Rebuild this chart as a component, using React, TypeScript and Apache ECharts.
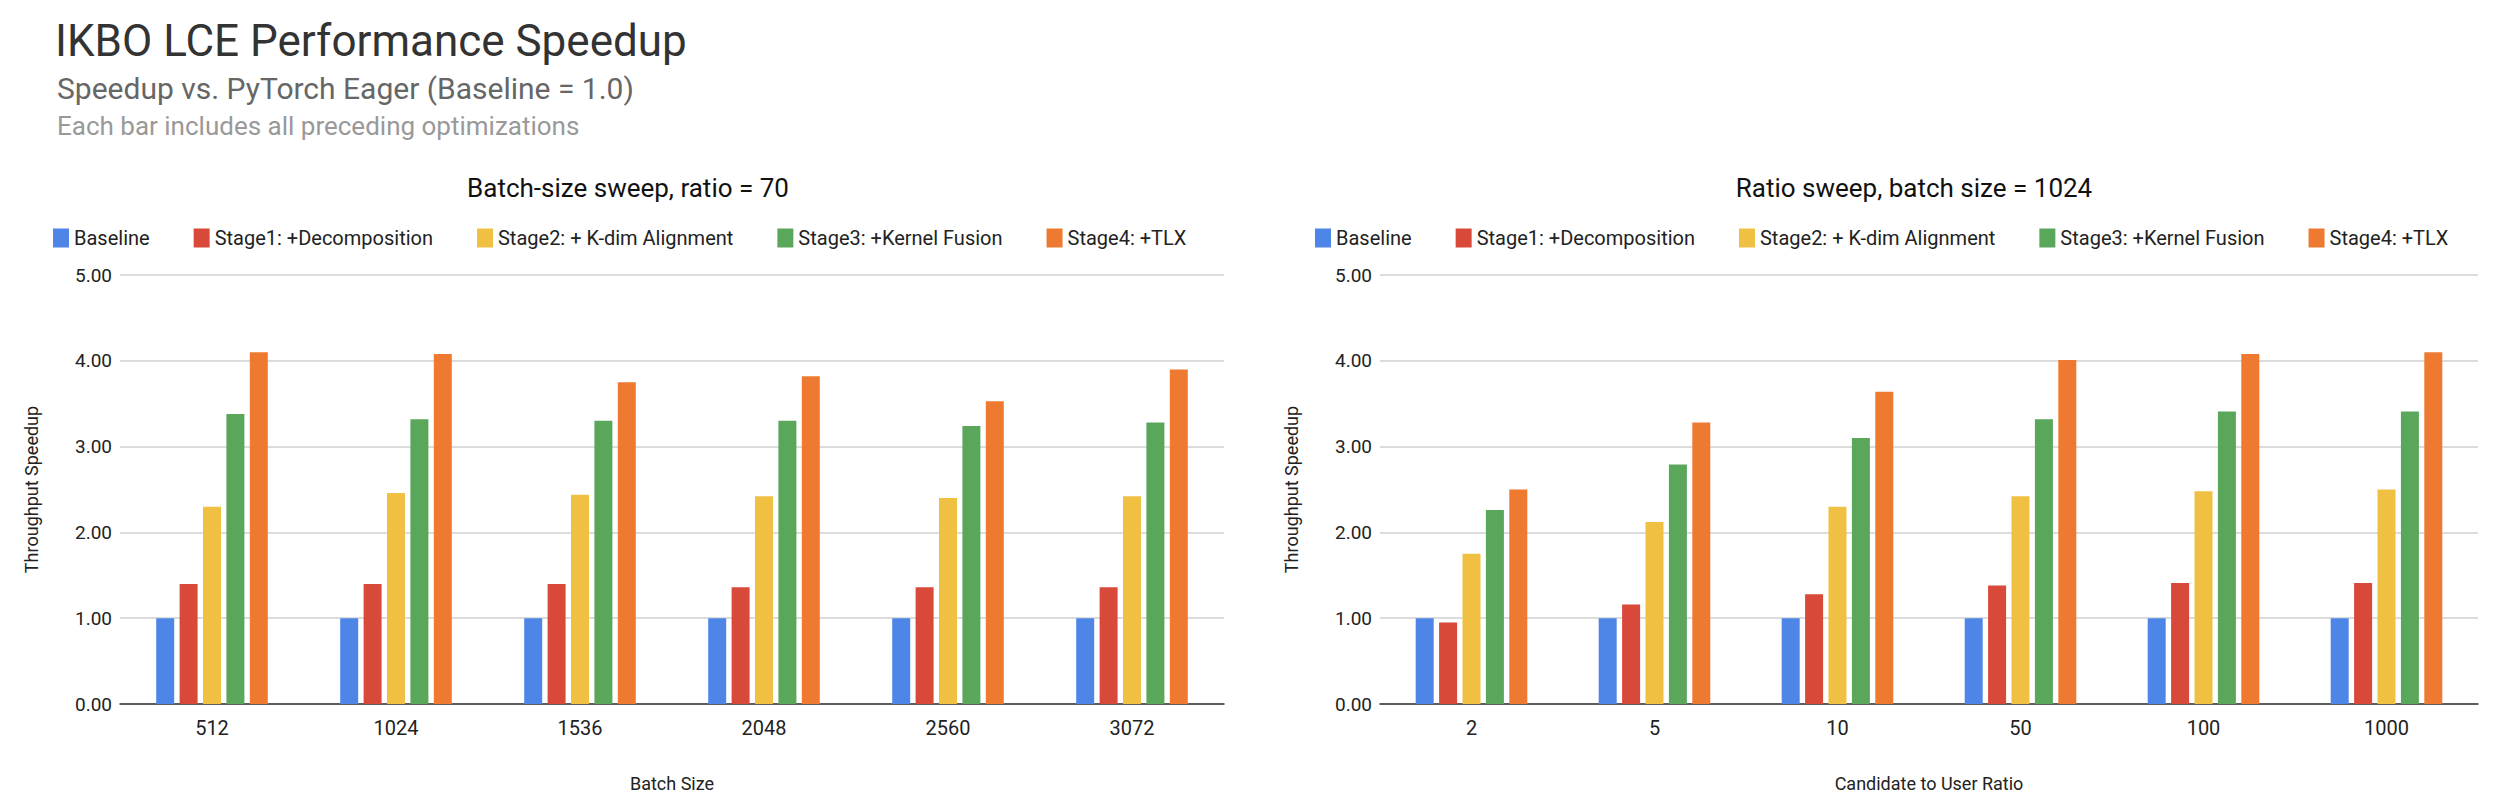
import React, { useEffect, useRef } from 'react';
import * as echarts from 'echarts';

const batchSizes = ['512', '1024', '1536', '2048', '2560', '3072'];
const ratios = ['2', '5', '10', '50', '100', '1000'];
const seriesNames = ['Baseline', 'Stage1: +Decomposition', 'Stage2: + K-dim Alignment', 'Stage3: +Kernel Fusion', 'Stage4: +TLX'];
const colors = ['#4e86e8', '#d9493a', '#f0c043', '#5aa75c', '#ee7a32'];

// batch-size sweep, ratio = 70
const batchBaseline = [1, 1, 1, 1, 1, 1];
const batchStage1 = [1.4, 1.4, 1.4, 1.36, 1.36, 1.36];
const batchStage2 = [2.3, 2.46, 2.44, 2.42, 2.4, 2.42];
const batchStage3 = [3.38, 3.32, 3.3, 3.3, 3.24, 3.28];
const batchStage4 = [4.1, 4.08, 3.75, 3.82, 3.53, 3.9];

// ratio sweep, batch size = 1024
const ratioBaseline = [1, 1, 1, 1, 1, 1];
const ratioStage1 = [0.95, 1.16, 1.28, 1.38, 1.41, 1.41];
const ratioStage2 = [1.75, 2.12, 2.3, 2.42, 2.48, 2.5];
const ratioStage3 = [2.26, 2.79, 3.1, 3.32, 3.41, 3.41];
const ratioStage4 = [2.5, 3.28, 3.64, 4.01, 4.08, 4.1];

const font = 'Roboto, Arial, sans-serif';

const App = () => {
  const chartRef = useRef(null);

  useEffect(() => {
    const chart = echarts.init(chartRef.current, null, { renderer: 'svg' });

    const batchData = [batchBaseline, batchStage1, batchStage2, batchStage3, batchStage4];
    const ratioData = [ratioBaseline, ratioStage1, ratioStage2, ratioStage3, ratioStage4];

    const grids = [
      { left: 120, width: 1104, top: 275, height: 429 },
      { left: 1380, width: 1098, top: 275, height: 429 },
    ];

    const xAxis = [batchSizes, ratios].map((cats, i) => ({
      type: 'category',
      gridIndex: i,
      data: cats,
      name: i === 0 ? 'Batch Size' : 'Candidate to User Ratio',
      nameLocation: 'middle',
      nameGap: 70,
      nameTextStyle: { fontSize: 18, color: '#222', fontFamily: font },
      axisLine: { lineStyle: { color: '#333', width: 1.5 } },
      axisTick: { show: false },
      axisLabel: { fontSize: 20, color: '#222', margin: 14, fontFamily: font },
    }));

    const yAxis = [0, 1].map((i) => ({
      type: 'value',
      gridIndex: i,
      min: 0,
      max: 5,
      interval: 1,
      name: 'Throughput Speedup',
      nameLocation: 'middle',
      nameGap: 80,
      nameTextStyle: { fontSize: 18, color: '#222', fontFamily: font },
      axisLabel: { fontSize: 19, color: '#222', formatter: (v: number) => v.toFixed(2), fontFamily: font },
      splitLine: { lineStyle: { color: '#d0d0d0', width: 1.5 } },
    }));

    const series: any[] = [];
    [batchData, ratioData].forEach((data, gi) => {
      data.forEach((vals, si) => {
        series.push({
          type: 'bar',
          name: seriesNames[si],
          xAxisIndex: gi,
          yAxisIndex: gi,
          data: vals,
          barWidth: 18,
          barGap: '30%',
          itemStyle: { color: colors[si] },
        });
      });
    });

    const legendCommon = {
      data: seriesNames,
      top: 223,
      itemWidth: 16,
      itemHeight: 19,
      itemGap: 44,
      icon: 'rect',
      textStyle: { fontSize: 20, color: '#222', fontFamily: font },
    };

    chart.setOption({
      animation: false,
      color: colors,
      title: [
        { text: 'IKBO LCE Performance Speedup', left: 50, top: 14, textStyle: { fontSize: 44, fontWeight: 'normal', color: '#333', fontFamily: font } },
        { text: 'Speedup vs. PyTorch Eager (Baseline = 1.0)', left: 52, top: 68, textStyle: { fontSize: 30, fontWeight: 'normal', color: '#666', fontFamily: font } },
        { text: 'Each bar includes all preceding optimizations', left: 52, top: 108, textStyle: { fontSize: 26, fontWeight: 'normal', color: '#999', fontFamily: font } },
        { text: 'Batch-size sweep, ratio = 70', left: 623, textAlign: 'center', top: 170, textStyle: { fontSize: 26, fontWeight: 'normal', color: '#111', fontFamily: font } },
        { text: 'Ratio sweep, batch size = 1024', left: 1909, textAlign: 'center', top: 170, textStyle: { fontSize: 26, fontWeight: 'normal', color: '#111', fontFamily: font } },
      ],
      legend: [
        { ...legendCommon, left: 48 },
        { ...legendCommon, left: 1310 },
      ],
      grid: grids,
      xAxis,
      yAxis,
      series,
    });

    return () => {
      chart.dispose();
    };
  }, []);

  return <div ref={chartRef} style={{ position: 'absolute', left: 0, top: 0, width: '2502px', height: '800px', background: '#fff' }} />;
};

export default App;
